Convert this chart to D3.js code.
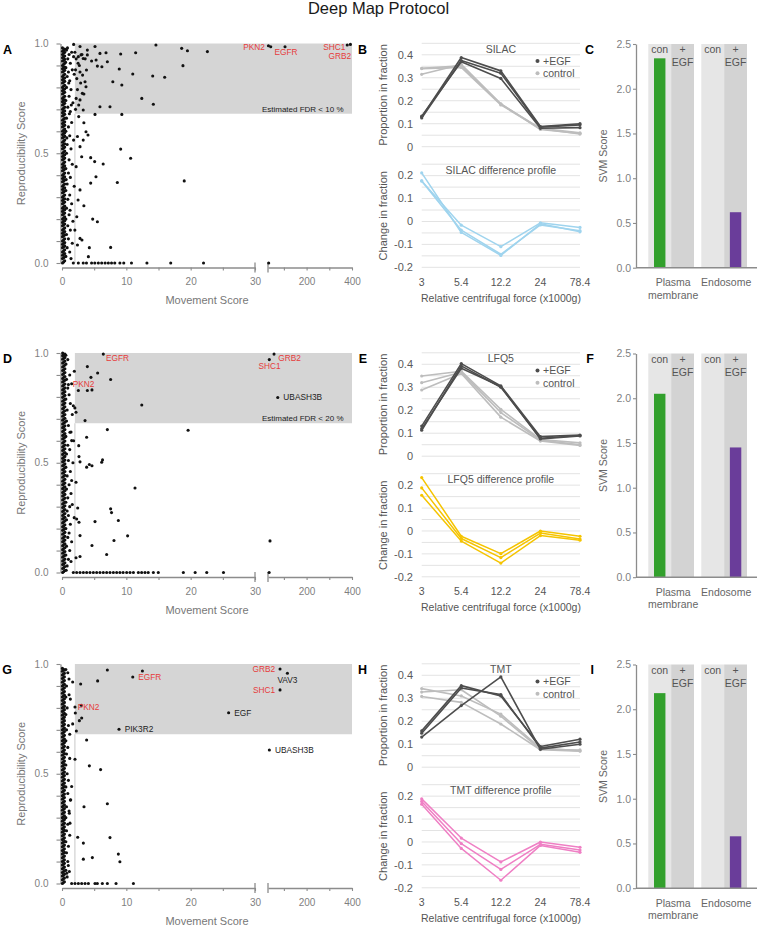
<!DOCTYPE html>
<html><head><meta charset="utf-8">
<script src="https://cdn.jsdelivr.net/npm/d3@7"></script>
<style>body{margin:0;background:#fff}svg{display:block}</style>
</head><body><script>
// ================= DATA =================
const chartTitle = "Deep Map Protocol";
const panelLetters = [["A","B","C"],["D","E","F"],["G","H","I"]];

// ---- scatter panels (A, D, G) ----
const yTicks = [0,0.1,0.2,0.3,0.4,0.5,0.6,0.7,0.8,0.9,1.0];
const yTickLabels = [0,0.5,1.0];
const lowDomain = [0,30];
const highDomain = [30,400];
const xTicksLow = [0,5,10,15,20,25,30];
const xTicksLowLabeled = [0,10,20,30];
const xTicksHigh = [100,200,300,400];
const xTicksHighLabeled = [200,400];
const fdrMovement = 2, fdrRepro = 0.68;
const fdrTexts = ["Estimated FDR < 10 %","Estimated FDR < 20 %",""];

// dense near-zero columns: [movement, [reproducibility...]]
const A_band = [
 [0.08,[0,.02,.035,.05,.07,.085,.1,.12,.135,.15,.17,.185,.2,.22,.235,.25,.27,.285,.3,.32,.335,.35,.37,.385,.4,.42,.435,.45,.47,.485,.5,.52,.535,.55,.57,.585,.6,.62,.635,.65,.67,.685,.7,.72,.735,.75,.77,.785,.8,.82,.835,.85,.87,.885,.9,.92,.935,.95,.965,.98]],
 [0.25,[.005,.024,.04,.056,.074,.09,.106,.124,.14,.156,.174,.19,.206,.224,.24,.256,.274,.29,.306,.324,.34,.356,.374,.39,.406,.424,.44,.456,.474,.49,.506,.524,.54,.556,.574,.59,.606,.624,.64,.656,.674,.69,.706,.724,.74,.756,.774,.79,.806,.824,.84,.856,.874,.89,.906,.924,.94,.956,.97]],
 [0.42,[.01,.028,.043,.06,.078,.093,.11,.128,.143,.16,.178,.193,.21,.228,.243,.26,.278,.293,.31,.328,.343,.36,.378,.393,.41,.428,.443,.46,.478,.493,.51,.528,.543,.56,.578,.593,.61,.628,.643,.66,.678,.693,.71,.728,.743,.76,.778,.793,.81,.828,.843,.86,.878,.893,.91,.928,.943,.96,.975]]
];
const A_points = [
 [0.7,.97],[1.1,.95],[1.5,.96],[0.9,.93],[1.3,.91],[1.8,.94],[0.6,.89],[1.0,.87],[1.6,.88],[0.8,.85],[1.2,.83],[1.9,.86],[0.7,.8],[1.4,.79],[1.1,.76],[0.6,.74],[1.7,.73],[0.9,.71],[1.3,.69],[0.7,.66],[1.5,.64],[1.0,.62],[0.6,.6],[1.2,.58],[1.8,.56],[0.8,.54],[1.4,.52],[0.7,.5],[1.1,.47],[1.6,.45],[0.6,.43],[1.0,.41],[1.3,.39],[0.8,.36],[1.9,.35],[0.6,.33],[1.2,.31],[0.9,.29],[1.5,.27],[0.7,.25],[1.1,.22],[0.6,.2],[1.7,.19],[0.9,.17],[1.3,.15],[0.7,.13],[1.0,.11],[1.6,.09],[0.8,.07],[1.2,.05],[0.6,.03],[1.4,.02],
 [0.55,.915],[1.05,.82],[0.75,.57],[1.25,.24],[0.65,.38],[1.15,.68],[0.85,.98],[1.45,.72],
 [2.2,.93],[2.5,.91],[2.1,.88],[2.7,.9],[3.1,.95],[2.3,.84],[2.9,.82],[2.4,.79],[2.2,.75],[3.4,.77],[2.6,.72],[2.1,.7],[2.0,.96],[3.6,.93],[2.8,.87],
 [1.81,.996],[2.8,.986],[3.94,.97],[5.13,.986],[5.9,.955],[6.84,.958],[9.12,.952],[11.45,.958],[14.6,.993],[18.6,.978],[19.5,.967],[22.6,.963],[2.95,.948],[3.94,.948],[2.54,.94],[4.6,.92],[5.3,.925],[3.3,.932],[6.2,.894],[5.5,.897],[7.05,.917],[8.9,.884],[11.0,.861],[14.1,.852],[15.96,.846],[18.8,.899],[7.9,.826],[9.3,.811],[12.4,.75],[14.2,.723],[5.9,.712],[7.46,.712],[5.13,.677],[9.3,.677],[3.8,.879],[3.2,.856],[3.58,.826],[3.73,.803],[3.16,.773],[2.8,.743],[3.3,.697],[3.4,.639],[3.73,.598],[4.04,.583],[3.3,.56],[2.8,.53],[3.06,.484],[4.46,.48],[5.08,.462],[6.4,.451],[9.12,.519],[10.67,.477],[5.28,.393],[4.46,.364],[8.6,.367],[19.0,.374],[3.4,.261],[4.77,.2],[5.5,.188],[7.56,.071],[4.25,.07],[4.1,.029],[2.8,.112],[3.1,.105],[2.4,.082],[2.0,.15],[2.8,.333],[2.5,.287],[2.3,.211],[2.2,.439],[2.4,.576],[2.6,.667],
 [1.76,0],[2.54,0],[3.3,0],[3.8,0],[4.6,0],[5.1,0],[5.65,0],[6.17,0],[6.7,0],[7.2,0],[7.7,0],[8.2,0],[9.0,0],[9.6,0],[10.8,0],[13.2,0],[16.9,0],[22.0,0],[33,0],[42,.985]
];
const A_genes = [["PKN2",32,.99,true],["EGFR",105,.985,true],["SHC1",379,.993,true],["GRB2",393,.996,true]];

const D_band = [
 [0.1,[0,.018,.036,.052,.07,.088,.104,.122,.14,.156,.174,.192,.208,.226,.244,.26,.278,.296,.312,.33,.348,.364,.382,.4,.416,.434,.452,.468,.486,.504,.52,.538,.556,.572,.59,.608,.624,.642,.66,.676,.694,.712,.728,.746,.764,.78,.798,.816,.832,.85,.868,.884,.902,.92,.936,.954,.972,.988,1.0]],
 [0.27,[.004,.022,.04,.057,.075,.092,.109,.127,.144,.161,.179,.196,.213,.231,.248,.265,.283,.3,.317,.335,.352,.369,.387,.404,.421,.439,.456,.473,.491,.508,.525,.543,.56,.577,.595,.612,.629,.647,.664,.681,.699,.716,.733,.751,.768,.785,.803,.82,.837,.855,.872,.889,.907,.924,.941,.959,.976,.993]],
 [0.45,[.009,.027,.044,.061,.079,.096,.113,.131,.148,.165,.183,.2,.217,.235,.252,.269,.287,.304,.321,.339,.356,.373,.391,.408,.425,.443,.46,.477,.495,.512,.529,.547,.564,.581,.599,.616,.633,.651,.668,.685,.703,.72,.737,.755,.772,.789,.807,.824,.841,.859,.876,.893,.911,.928,.945,.963,.98,.995]]
];
const D_points = [
 [0.6,.99],[0.9,.97],[0.62,.95],[1.2,.9],[0.7,.88],[1.5,.86],[0.9,.84],[1.1,.81],[0.6,.79],[1.3,.77],[0.8,.74],[1.6,.72],[0.7,.69],[1.0,.67],[1.4,.64],[0.6,.62],[1.24,.639],[1.5,.601],[0.9,.58],[1.2,.56],[0.7,.54],[1.0,.51],[1.7,.5],[0.6,.48],[1.3,.46],[0.8,.44],[1.5,.419],[1.1,.4],[0.7,.38],[1.4,.36],[0.9,.34],[0.6,.32],[1.2,.3],[1.6,.31],[0.8,.28],[1.0,.26],[0.7,.24],[1.3,.22],[0.6,.2],[1.1,.18],[0.9,.16],[1.5,.14],[0.7,.12],[1.2,.1],[0.6,.08],[1.0,.06],[1.4,.05],[0.8,.03],[0.65,.01],
 [1.92,.917],[3.94,.938],[4.5,.889],[5.54,.909],[7.56,.879],[2.54,.829],[3.94,.829],[4.66,.832],[12.4,.763],[1.76,.76],[2.18,.73],[3.58,.692],[7.05,.651],[19.6,.648],[3.83,.616],[2.6,.578],[2.64,.528],[2.8,.504],[4.25,.492],[4.66,.486],[3.83,.48],[6.3,.513],[6.17,.502],[2.18,.411],[11.35,.385],[7.56,.29],[7.7,.273],[2.44,.294],[2.64,.229],[2.28,.244],[5.13,.232],[8.76,.237],[2.8,.168],[10.2,.167],[8.08,.146],[4.66,.123],[6.94,.082],[2.18,.067],[2.8,.073],[1.8,.6],[2.0,.75],[1.9,.25],
 [1.76,0],[2.28,0],[2.8,0],[3.32,0],[3.83,0],[4.35,0],[4.87,0],[5.39,0],[5.9,0],[6.42,0],[6.94,0],[7.46,0],[7.98,0],[8.5,0],[9.0,0],[9.5,0],[10.05,0],[10.57,0],[11.1,0],[11.87,0],[12.38,0],[12.9,0],[13.4,0],[14.2,0],[14.97,0],[18.86,0],[20.7,0],[22.5,0],[25.1,0],[35,0],[38.8,.144]
];
const D_genes = [["EGFR",6.42,.995,true],["GRB2",56.6,.995,true],["SHC1",35.8,.97,true],["PKN2",1.0,.856,true],["UBASH3B",73,.797,false]];

const G_band = [
 [0.06,[0,.017,.034,.05,.067,.084,.1,.117,.134,.15,.167,.184,.2,.217,.234,.25,.267,.284,.3,.317,.334,.35,.367,.384,.4,.417,.434,.45,.467,.484,.5,.517,.534,.55,.567,.584,.6,.617,.634,.65,.667,.684,.7,.717,.734,.75,.767,.784,.8,.817,.834,.85,.867,.884,.9,.917,.934,.95,.967,.98]],
 [0.22,[.004,.021,.038,.054,.071,.088,.104,.121,.138,.154,.171,.188,.204,.221,.238,.254,.271,.288,.304,.321,.338,.354,.371,.388,.404,.421,.438,.454,.471,.488,.504,.521,.538,.554,.571,.588,.604,.621,.638,.654,.671,.688,.704,.721,.738,.754,.771,.788,.804,.821,.838,.854,.871,.888,.904,.921,.938,.954,.976]],
 [0.38,[.008,.025,.042,.058,.075,.092,.108,.125,.142,.158,.175,.192,.208,.225,.242,.258,.275,.292,.308,.325,.342,.358,.375,.392,.408,.425,.442,.458,.475,.492,.508,.525,.542,.558,.575,.592,.608,.625,.642,.658,.675,.692,.708,.725,.742,.758,.775,.792,.808,.825,.842,.858,.875,.892,.908,.925,.942,.958,.972]]
];
const G_points = [
 [0.6,.975],[0.9,.96],[0.7,.9],[1.1,.86],[0.6,.85],[1.3,.84],[0.8,.8],[0.6,.77],[1.0,.72],[0.7,.7],[1.2,.68],[0.6,.65],[0.9,.62],[0.7,.59],[1.2,.57],[0.6,.54],[0.8,.5],[1.0,.47],[0.6,.44],[0.9,.41],[1.3,.38],[0.7,.35],[1.1,.33],[0.6,.3],[0.9,.27],[0.7,.24],[1.2,.22],[0.6,.19],[1.0,.17],[0.7,.14],[0.9,.1],[0.6,.06],[0.8,.03],
 [7.05,.973],[12.5,.968],[5.54,.923],[2.9,.909],[1.09,.932],[1.66,.918],[3.0,.812],[2.07,.777],[2.7,.742],[3.06,.754],[1.66,.727],[2.23,.695],[3.83,.654],[2.02,.566],[4.25,.536],[6.0,.519],[1.5,.442],[1.35,.381],[7.05,.363],[3.42,.35],[1.14,.32],[1.24,.275],[2.44,.211],[7.46,.209],[3.32,.184],[8.76,.134],[9.0,.099],[3.32,.111],[4.72,.118],[0.98,.082],[1.14,.055],[0.73,.047],
 [1.5,0],[2.02,0],[2.54,0],[3.06,0],[3.58,0],[4.1,0],[5.13,0],[5.49,0],[6.27,0],[7.05,0],[8.4,0],[11.1,0]
];
const G_genes = [["GRB2",83,.977,true],["VAV3",115.5,.958,false],["SHC1",83,.882,true],["EGF",25.9,.778,false],["UBASH3B",36,.608,false],["EGFR",11.0,.941,true],["PIK3R2",8.86,.703,false],["PKN2",2.02,.804,true]];

// ---- profile panels (B, E, H) ----
const fractions = ["3","5.4","12.2","24","78.4"];
const propGrid = [0,0.05,0.1,0.15,0.2,0.25,0.3,0.35,0.4,0.45];
const propTicks = [0,0.1,0.2,0.3,0.4];
const diffGrid = [-0.2,-0.15,-0.1,-0.05,0,0.05,0.1,0.15,0.2,0.25];
const diffTicks = [-0.2,-0.1,0,0.1,0.2];
const methods = ["SILAC","LFQ5","TMT"];
const silacEGF = [[0.13,0.388,0.33,0.088,0.10],[0.125,0.375,0.32,0.085,0.095],[0.133,0.37,0.297,0.08,0.083]];
const silacCtrl = [[0.341,0.352,0.185,0.08,0.06],[0.34,0.345,0.182,0.078,0.055],[0.315,0.358,0.187,0.075,0.058]];
const silacDiff = [[0.212,-0.048,-0.148,-0.01,-0.045],[0.177,-0.038,-0.143,-0.015,-0.04],[0.177,-0.016,-0.11,-0.006,-0.026]];
const lfqEGF = [[0.131,0.403,0.306,0.085,0.092],[0.113,0.393,0.30,0.078,0.09],[0.12,0.383,0.303,0.075,0.088]];
const lfqCtrl = [[0.349,0.37,0.204,0.073,0.058],[0.32,0.365,0.19,0.07,0.05],[0.288,0.36,0.17,0.066,0.047]];
const lfqDiff = [[0.233,-0.023,-0.099,0,-0.023],[0.188,-0.033,-0.116,-0.009,-0.035],[0.156,-0.044,-0.14,-0.02,-0.04]];
const tmtEGF = [[0.158,0.355,0.31,0.09,0.122],[0.148,0.345,0.316,0.083,0.11],[0.131,0.268,0.393,0.078,0.10]];
const tmtCtrl = [[0.342,0.31,0.231,0.083,0.071],[0.327,0.337,0.222,0.078,0.075],[0.308,0.282,0.188,0.076,0.07]];
const tmtDiff = [[0.188,0.017,-0.087,0,-0.023],[0.177,-0.007,-0.12,-0.01,-0.035],[0.165,-0.028,-0.167,-0.015,-0.045]];

// ---- SVM panels (C, F, I) ----
const svmGroups = ["Plasma membrane","Endosome"];
const svmConds = ["con","+EGF"];
const svmTicks = [0,0.5,1.0,1.5,2.0,2.5];
// [group][condition]
const svmC = [[2.34,0],[0,0.62]];
const svmF = [[2.05,0],[0,1.45]];
const svmI = [[2.18,0],[0,0.58]];

// ================= STYLE / LAYOUT =================
const FONT = '"Liberation Sans", Arial, Helvetica, sans-serif';
const ROW_OFFSETS = [0, 309.5, 620.5];
const RED = "#e63b3b";
const genePlacement = {
 "A:PKN2":[-3.5,4.8,"end"],"A:EGFR":[-10.6,8.7,"start"],"A:SHC1":[-1.8,4.6,"end"],"A:GRB2":[0.8,14.2,"end"],
 "D:EGFR":[2.7,6.7,"start"],"D:GRB2":[4.3,6.7,"start"],"D:SHC1":[0.2,9.9,"middle"],"D:PKN2":[4.3,2.8,"start"],"D:UBASH3B":[5.6,2.8,"start"],
 "G:GRB2":[-5,2.8,"end"],"G:VAV3":[-10,9.6,"start"],"G:SHC1":[-5,2.8,"end"],"G:EGF":[5.7,2.8,"start"],"G:UBASH3B":[5.6,2.8,"start"],"G:EGFR":[5.5,2.8,"start"],"G:PIK3R2":[5.7,2.8,"start"],"G:PKN2":[2.7,2.8,"start"]
};

const svg = d3.select("body").append("svg").attr("width",757).attr("height",926).attr("font-family",FONT);

svg.append("text").attr("x",378.5).attr("y",13.5).attr("text-anchor","middle")
  .attr("font-size",16.5).attr("fill","#1a1a1a").text(chartTitle);

const letterX = [12,367,594];
panelLetters.forEach((r,ri)=>r.forEach((L,ci)=>{
  svg.append("text").attr("x",letterX[ci]).attr("y",53.5+ROW_OFFSETS[ri]).attr("text-anchor","end")
    .attr("font-size",12.5).attr("font-weight","bold").attr("fill","#000").text(L);
}));

function styleAxis(sel){
  sel.attr("font-family",FONT);
  sel.selectAll(".domain").attr("stroke","#8c8c8c").attr("stroke-width",1.3);
  sel.selectAll(".tick line").attr("stroke","#8c8c8c").attr("stroke-width",1.1);
  sel.selectAll(".tick text").attr("fill","#7f7f7f").attr("font-size",10);
}

function drawScatter(row, key, band, pts, genes, fdrText){
  const off = ROW_OFFSETS[row];
  const g = svg.append("g");
  const xa = d3.scaleLinear().domain(lowDomain).range([62,255]);
  const xb = d3.scaleLinear().domain(highDomain).range([268,352]);
  const X = v => v<=lowDomain[1] ? xa(v) : xb(v);
  const y = d3.scaleLinear().domain([0,1]).range([263+off,43.5+off]);

  g.append("rect").attr("x",xa(fdrMovement)).attr("y",y(1))
    .attr("width",xb(highDomain[1])-xa(fdrMovement)).attr("height",y(fdrRepro)-y(1)).attr("fill","#d5d5d5");
  g.append("line").attr("x1",xa(fdrMovement)).attr("x2",xa(fdrMovement)).attr("y1",y(fdrRepro)).attr("y2",y(0))
    .attr("stroke","#dadada").attr("stroke-width",1.5);
  if(fdrText){
    g.append("text").attr("x",xb(highDomain[1])-8.5).attr("y",y(fdrRepro)-2.2).attr("text-anchor","end")
      .attr("font-size",8).attr("fill","#222").text(fdrText);
  }

  const ya = d3.axisLeft(y).tickValues(yTicks)
    .tickFormat(d => yTickLabels.some(v=>Math.abs(v-d)<1e-9) ? d3.format(".1f")(d) : "")
    .tickSize(4).tickSizeOuter(0).tickPadding(8);
  g.append("g").attr("transform","translate(60.5,0)").call(ya).call(styleAxis);

  const axY = 267.5+off;
  g.append("g").attr("transform",`translate(0,${axY})`)
    .call(d3.axisBottom(xa).tickValues(xTicksLow).tickFormat(d=>xTicksLowLabeled.includes(d)?String(d):"")
      .tickSize(3).tickSizeOuter(0).tickPadding(7.5)).call(styleAxis);
  g.append("g").attr("transform",`translate(0,${axY})`)
    .call(d3.axisBottom(xb).tickValues(xTicksHigh).tickFormat(d=>xTicksHighLabeled.includes(d)?String(d):"")
      .tickSize(3).tickSizeOuter(0).tickPadding(7.5)).call(styleAxis);
  g.selectAll(".brk").data([xa(lowDomain[1]), xb(highDomain[0])]).join("line").attr("class","brk")
    .attr("x1",d=>d).attr("x2",d=>d).attr("y1",axY-5).attr("y2",axY+5)
    .attr("stroke","#8c8c8c").attr("stroke-width",1.3);

  const all = band.flatMap(([bx,ys])=>ys.map(v=>[bx,v])).concat(pts, genes.map(d=>[d[1],d[2]]));
  g.append("g").selectAll("circle").data(all).join("circle")
    .attr("cx",d=>X(d[0])).attr("cy",d=>y(d[1])).attr("r",1.55).attr("fill","#111");

  g.append("g").selectAll("text").data(genes).join("text")
    .attr("x",d=>X(d[1])+genePlacement[key+":"+d[0]][0])
    .attr("y",d=>y(d[2])+genePlacement[key+":"+d[0]][1])
    .attr("text-anchor",d=>genePlacement[key+":"+d[0]][2])
    .attr("font-size",8.3).attr("fill",d=>d[3]?RED:"#222").text(d=>d[0]);

  g.append("text").attr("x",207).attr("y",304+off).attr("text-anchor","middle")
    .attr("font-size",11).attr("fill","#777").text("Movement Score");
  g.append("text").attr("transform",`translate(21,${(y(0)+y(1))/2}) rotate(-90)`).attr("dy","0.35em")
    .attr("text-anchor","middle").attr("font-size",11).attr("fill","#777").text("Reproducibility Score");
}

function drawProfile(row, name, egf, ctrl, diff, diffColor){
  const off = ROW_OFFSETS[row];
  const g = svg.append("g");
  const x = d3.scalePoint().domain(fractions).range([421.7,580]);
  const yT = d3.scaleLinear().domain([0,0.45]).range([146.7+off,43.3+off]);
  const yB = d3.scaleLinear().domain([-0.2,0.25]).range([267.3+off,164.2+off]);
  const [x0,x1] = x.range();
  const grid = (scale, vals) => g.append("g").selectAll("line").data(vals).join("line")
    .attr("x1",x0).attr("x2",x1).attr("y1",d=>scale(d)).attr("y2",d=>scale(d))
    .attr("stroke","#e3e3e3").attr("stroke-width",1);
  grid(yT, propGrid); grid(yB, diffGrid);

  const tickTxt = (scale, vals) => g.append("g").selectAll("text").data(vals).join("text")
    .attr("x",413).attr("y",d=>scale(d)+3.8).attr("text-anchor","end").attr("font-size",11).attr("fill","#5a5a5a")
    .text(d=> Math.abs(d)<1e-9 ? "0" : d.toFixed(1));
  tickTxt(yT, propTicks); tickTxt(yB, diffTicks);

  const series = (scale, data, color, w) => {
    const line = d3.line().x((d,i)=>x(fractions[i])).y(d=>scale(d));
    const sg = g.append("g");
    sg.selectAll("path").data(data).join("path").attr("d",line).attr("fill","none")
      .attr("stroke",color).attr("stroke-width",w).attr("stroke-linejoin","round");
    sg.selectAll("circle").data(data.flatMap(s=>s.map((v,i)=>[i,v]))).join("circle")
      .attr("cx",d=>x(fractions[d[0]])).attr("cy",d=>scale(d[1])).attr("r",1.6).attr("fill",color);
  };
  series(yT, ctrl, "#bdbdbd", 1.6);
  series(yT, egf, "#4d4d4d", 1.6);
  series(yB, diff, diffColor, 1.5);

  g.append("text").attr("x",x("12.2")).attr("y",52.8+off).attr("text-anchor","middle")
    .attr("font-size",10.5).attr("fill","#555").text(name);
  g.append("text").attr("x",x("12.2")).attr("y",173.8+off).attr("text-anchor","middle")
    .attr("font-size",10.5).attr("fill","#555").text(name+" difference profile");

  const leg = [["+EGF","#4d4d4d",61],["control","#bdbdbd",73.3]];
  leg.forEach(([t,c,ly])=>{
    g.append("circle").attr("cx",537.5).attr("cy",ly+off).attr("r",2).attr("fill",c);
    g.append("text").attr("x",543).attr("y",ly+off+3.7).attr("font-size",10.5).attr("fill","#555").text(t);
  });

  g.append("g").selectAll("text").data(fractions).join("text")
    .attr("x",d=>x(d)).attr("y",285.5+off).attr("text-anchor","middle").attr("font-size",10.5).attr("fill","#555").text(d=>d);
  g.append("text").attr("x",501).attr("y",301.5+off).attr("text-anchor","middle")
    .attr("font-size",10.5).attr("fill","#555").text("Relative centrifugal force (x1000g)");
  g.append("text").attr("transform",`translate(383,${(yT(0)+yT(0.45))/2}) rotate(-90)`).attr("dy","0.35em")
    .attr("text-anchor","middle").attr("font-size",11).attr("fill","#555").text("Proportion in fraction");
  g.append("text").attr("transform",`translate(383,${(yB(-0.2)+yB(0.25))/2}) rotate(-90)`).attr("dy","0.35em")
    .attr("text-anchor","middle").attr("font-size",11).attr("fill","#555").text("Change in fraction");
}

function drawSVM(row, vals){
  const off = ROW_OFFSETS[row];
  const g = svg.append("g");
  const y = d3.scaleLinear().domain([0,2.5]).range([267.7+off,44+off]);
  const outer = d3.scaleBand().domain(svmGroups).range([648.3,747]).paddingInner(0.138).paddingOuter(0);
  const inner = d3.scaleBand().domain(svmConds).range([0,outer.bandwidth()]);
  const bg = {"con":"#e6e6e6","+EGF":"#d3d3d3"};
  const barCol = {"Plasma membrane":"#32a02c","Endosome":"#6a3d9a"};
  const cells = svmGroups.flatMap((gname,gi)=>svmConds.map((c,ci)=>({g:gname,c,v:vals[gi][ci]})));
  g.selectAll("rect.bg").data(cells).join("rect").attr("class","bg")
    .attr("x",d=>outer(d.g)+inner(d.c)).attr("y",y(2.5)).attr("width",inner.bandwidth()).attr("height",y(0)-y(2.5))
    .attr("fill",d=>bg[d.c]);
  const bw = inner.bandwidth();
  g.selectAll("rect.bar").data(cells.filter(d=>d.v>0)).join("rect").attr("class","bar")
    .attr("x",d=>outer(d.g)+inner(d.c)+bw*0.25).attr("y",d=>y(d.v)).attr("width",bw*0.5).attr("height",d=>y(0)-y(d.v))
    .attr("fill",d=>barCol[d.g]);
  cells.forEach(d=>{
    const cx = outer(d.g)+inner(d.c)+bw/2;
    if(d.c==="con"){
      g.append("text").attr("x",cx).attr("y",53+off).attr("text-anchor","middle").attr("font-size",10.5).attr("fill","#555").text("con");
    } else {
      g.append("text").attr("x",cx).attr("y",53+off).attr("text-anchor","middle").attr("font-size",10.5).attr("fill","#555").text("+");
      g.append("text").attr("x",cx).attr("y",66+off).attr("text-anchor","middle").attr("font-size",10.5).attr("fill","#555").text("EGF");
    }
  });
  g.append("g").attr("transform","translate(636,0)")
    .call(d3.axisLeft(y).tickValues(svmTicks).tickFormat(d3.format(".1f")).tickSize(3).tickSizeOuter(0).tickPadding(2))
    .call(styleAxis);
  g.selectAll(".tick text").attr("font-size",10.5);
  g.append("line").attr("x1",636).attr("x2",757).attr("y1",y(0)).attr("y2",y(0)).attr("stroke","#8c8c8c").attr("stroke-width",1.5);
  const cx0 = outer("Plasma membrane")+outer.bandwidth()/2+2;
  const cx1 = outer("Endosome")+outer.bandwidth()/2+2;
  g.append("text").attr("x",cx0).attr("y",286+off).attr("text-anchor","middle").attr("font-size",10.5).attr("fill","#666").text("Plasma");
  g.append("text").attr("x",cx0).attr("y",298.7+off).attr("text-anchor","middle").attr("font-size",10.5).attr("fill","#666").text("membrane");
  g.append("text").attr("x",cx1).attr("y",286+off).attr("text-anchor","middle").attr("font-size",10.5).attr("fill","#666").text("Endosome");
  g.append("text").attr("transform",`translate(603.5,${(y(0)+y(2.5))/2}) rotate(-90)`).attr("dy","0.35em")
    .attr("text-anchor","middle").attr("font-size",10.5).attr("fill","#666").text("SVM Score");
}

drawScatter(0,"A",A_band,A_points,A_genes,fdrTexts[0]);
drawScatter(1,"D",D_band,D_points,D_genes,fdrTexts[1]);
drawScatter(2,"G",G_band,G_points,G_genes,fdrTexts[2]);
drawProfile(0,methods[0],silacEGF,silacCtrl,silacDiff,"#9fd4ee");
drawProfile(1,methods[1],lfqEGF,lfqCtrl,lfqDiff,"#f5c400");
drawProfile(2,methods[2],tmtEGF,tmtCtrl,tmtDiff,"#ef7fc4");
drawSVM(0,svmC);
drawSVM(1,svmF);
drawSVM(2,svmI);
</script></body></html>
